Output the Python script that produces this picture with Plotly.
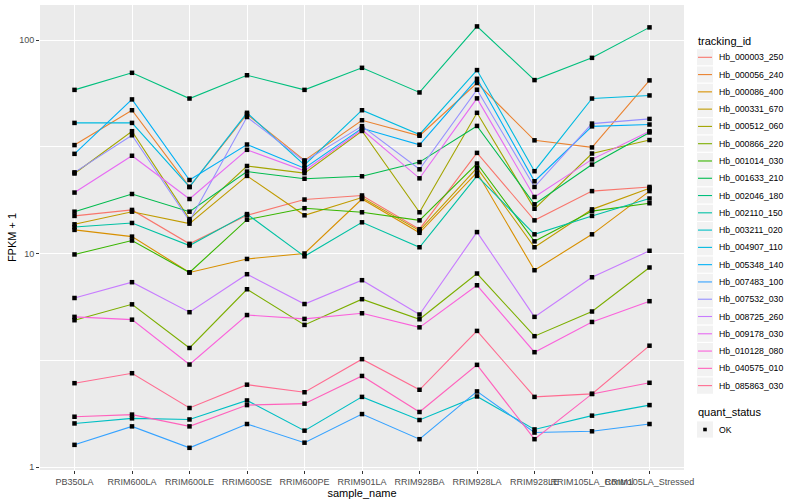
import plotly.graph_objects as go

samples = ["PB350LA", "RRIM600LA", "RRIM600LE", "RRIM600SE", "RRIM600PE", "RRIM901LA",
           "RRIM928BA", "RRIM928LA", "RRIM928LE", "RRIM105LA_Control", "RRIM105LA_Stressed"]

tracking_ids = ["Hb_000003_250", "Hb_000056_240", "Hb_000086_400", "Hb_000331_670", "Hb_000512_060",
                "Hb_000866_220", "Hb_001014_030", "Hb_001633_210", "Hb_002046_180", "Hb_002110_150",
                "Hb_003211_020", "Hb_004907_110", "Hb_005348_140", "Hb_007483_100", "Hb_007532_030",
                "Hb_008725_260", "Hb_009178_030", "Hb_010128_080", "Hb_040575_010", "Hb_085863_030"]

colors = ["#F8766D", "#EA8331", "#D89000", "#C09B00", "#A3A500", "#7CAE00", "#39B600", "#00BB4E",
          "#00BF7D", "#00C1A3", "#00BFC4", "#00BAE0", "#00B0F6", "#35A2FF", "#9590FF", "#C77CFF",
          "#E76BF3", "#FA62DB", "#FF62BC", "#FF6C91"]

# FPKM + 1 per sample
hb_000003_250 = [15.0, 16.0, 11.1, 15.1, 17.9, 18.7, 13.0, 29.6, 14.3, 19.6, 20.5]
hb_000056_240 = [32.2, 46.9, 20.5, 44.9, 27.3, 42.1, 35.6, 62.9, 33.9, 31.4, 64.7]
hb_000086_400 = [12.9, 12.0, 8.15, 9.43, 10.0, 18.0, 12.5, 24.0, 8.35, 12.3, 19.6]
hb_000331_670 = [13.7, 15.7, 13.8, 23.1, 15.1, 18.3, 12.8, 25.2, 10.7, 16.1, 20.2]
hb_000512_060 = [23.7, 37.4, 14.5, 25.7, 23.8, 37.5, 15.6, 45.6, 16.2, 29.4, 34.0]
hb_000866_220 = [4.87, 5.78, 3.61, 6.8, 4.63, 6.11, 4.92, 8.06, 4.10, 5.35, 8.6]
hb_001014_030 = [9.9, 11.5, 8.15, 14.4, 16.3, 15.6, 14.3, 26.4, 11.4, 15.8, 17.2]
hb_001633_210 = [15.7, 19.0, 15.7, 24.2, 22.4, 23.0, 26.8, 39.6, 17.0, 26.1, 36.9]
hb_002046_180 = [58.4, 70.2, 53.2, 68.4, 58.4, 74.1, 56.8, 115.8, 64.9, 82.5, 114.6]
hb_002110_150 = [13.3, 13.9, 10.9, 15.3, 9.7, 14.0, 10.7, 23.1, 12.3, 15.0, 18.1]
hb_003211_020 = [1.60, 1.69, 1.67, 2.05, 1.48, 2.13, 1.66, 2.14, 1.50, 1.74, 1.95]
hb_004907_110 = [40.9, 40.9, 20.5, 45.6, 26.0, 46.9, 36.1, 72.3, 24.3, 53.2, 55.0]
hb_005348_140 = [29.3, 52.7, 22.1, 32.4, 25.1, 38.6, 32.3, 65.8, 21.8, 39.4, 40.2]
hb_007483_100 = [1.27, 1.55, 1.23, 1.59, 1.30, 1.77, 1.35, 2.26, 1.45, 1.47, 1.59]
hb_007532_030 = [24.0, 35.8, 14.2, 43.6, 27.0, 39.5, 24.8, 58.5, 20.5, 40.6, 42.7]
hb_008725_260 = [6.19, 7.34, 5.31, 8.0, 5.8, 7.5, 5.18, 12.6, 5.05, 7.74, 10.3]
hb_009178_030 = [19.3, 28.7, 18.0, 30.6, 24.4, 38.0, 22.5, 53.3, 18.4, 27.6, 37.4]
hb_010128_080 = [5.05, 4.90, 3.02, 5.15, 4.94, 5.25, 4.51, 7.1, 3.45, 4.78, 5.98]
hb_040575_010 = [1.72, 1.76, 1.55, 1.95, 1.98, 2.67, 1.81, 3.01, 1.35, 2.20, 2.48]
hb_085863_030 = [2.47, 2.75, 1.89, 2.43, 2.24, 3.20, 2.30, 4.34, 2.13, 2.20, 3.70]

series = [hb_000003_250, hb_000056_240, hb_000086_400, hb_000331_670, hb_000512_060,
          hb_000866_220, hb_001014_030, hb_001633_210, hb_002046_180, hb_002110_150,
          hb_003211_020, hb_004907_110, hb_005348_140, hb_007483_100, hb_007532_030,
          hb_008725_260, hb_009178_030, hb_010128_080, hb_040575_010, hb_085863_030]

quant_status = ["OK"]
y_ticks = [1, 10, 100]
y_minor = [10 ** 0.5, 10 ** 1.5]

FONT = "Liberation Sans, Arial, sans-serif"
W, H = 800, 500
ML, MR, MT, MB = 40, 116, 5, 30
PW, PH = W - ML - MR, H - MT - MB

fig = go.Figure()
for name, col, vals in zip(tracking_ids, colors, series):
    fig.add_trace(go.Scatter(x=samples, y=vals, mode="lines", name=name,
                             line=dict(color=col, width=1.1), showlegend=False))
for name, vals in zip(tracking_ids, series):
    fig.add_trace(go.Scatter(x=samples, y=vals, mode="markers", name=quant_status[0],
                             marker=dict(symbol="square", size=4.5, color="black"),
                             showlegend=False))


def px2x(px):
    return (px - ML) / PW


def py2y(py):
    return (H - MB - py) / PH


shapes = []
annotations = []
# legend: tracking_id
annotations.append(dict(text="tracking_id", x=px2x(696), y=py2y(40.7), xref="paper", yref="paper",
                        xanchor="left", yanchor="middle", showarrow=False,
                        font=dict(family=FONT, size=11, color="black")))
step = 17.28
for i, (name, col) in enumerate(zip(tracking_ids, colors)):
    cy = 57.3 + step * i
    shapes.append(dict(type="rect", xref="paper", yref="paper",
                       x0=px2x(696.5), x1=px2x(713.5), y0=py2y(cy - step / 2), y1=py2y(cy + step / 2),
                       fillcolor="#F2F2F2", line=dict(color="white", width=1)))
    shapes.append(dict(type="line", xref="paper", yref="paper",
                       x0=px2x(698), x1=px2x(712), y0=py2y(cy), y1=py2y(cy),
                       line=dict(color=col, width=1.1)))
    annotations.append(dict(text=name, x=px2x(716.5), y=py2y(cy), xref="paper", yref="paper",
                            xanchor="left", yanchor="middle", showarrow=False,
                            font=dict(family=FONT, size=8.7, color="black")))
# legend: quant_status
annotations.append(dict(text="quant_status", x=px2x(696), y=py2y(412.3), xref="paper", yref="paper",
                        xanchor="left", yanchor="middle", showarrow=False,
                        font=dict(family=FONT, size=11, color="black")))
cy = 429.5
shapes.append(dict(type="rect", xref="paper", yref="paper",
                   x0=px2x(696.5), x1=px2x(713.5), y0=py2y(cy - step / 2), y1=py2y(cy + step / 2),
                   fillcolor="#F2F2F2", line=dict(color="white", width=1)))
shapes.append(dict(type="rect", xref="paper", yref="paper",
                   x0=px2x(703.2), x1=px2x(706.8), y0=py2y(cy + 1.8), y1=py2y(cy - 1.8),
                   fillcolor="black", line=dict(width=0)))
annotations.append(dict(text=quant_status[0], x=px2x(716.5), y=py2y(cy), xref="paper", yref="paper",
                        xanchor="left", yanchor="middle", showarrow=False,
                        font=dict(family=FONT, size=8.7, color="black")))

fig.update_layout(
    width=W, height=H, autosize=False,
    margin=dict(l=ML, r=MR, t=MT, b=MB, pad=0),
    paper_bgcolor="white", plot_bgcolor="#EBEBEB",
    font=dict(family=FONT, size=9, color="#4D4D4D"),
    shapes=shapes, annotations=annotations,
    showlegend=False,
    xaxis=dict(type="category", range=[-0.6, len(samples) - 0.4], showgrid=True,
               gridcolor="white", gridwidth=1.1, zeroline=False, showline=False,
               ticks="outside", ticklen=3, tickwidth=1, tickcolor="#333333",
               tickangle=0, tickfont=dict(family=FONT, size=9, color="#4D4D4D"),
               title=dict(text="sample_name", standoff=0,
                          font=dict(family=FONT, size=11, color="black"))),
    yaxis=dict(type="log", range=[-0.014, 2.164], tickvals=y_ticks, ticktext=[str(v) for v in y_ticks],
               showgrid=True, gridcolor="white", gridwidth=1.1, zeroline=False, showline=False,
               ticks="outside", ticklen=3, tickwidth=1, tickcolor="#333333",
               tickfont=dict(family=FONT, size=9, color="#4D4D4D"),
               minor=dict(tickvals=y_minor, showgrid=True, gridcolor="white", gridwidth=0.55, ticks=""),
               title=dict(text="FPKM + 1", standoff=0,
                          font=dict(family=FONT, size=11, color="black"))),
)

fig.write_html("out.html", config={"displayModeBar": False},
               post_script="document.body.style.margin='0';document.body.style.overflow='hidden';")
